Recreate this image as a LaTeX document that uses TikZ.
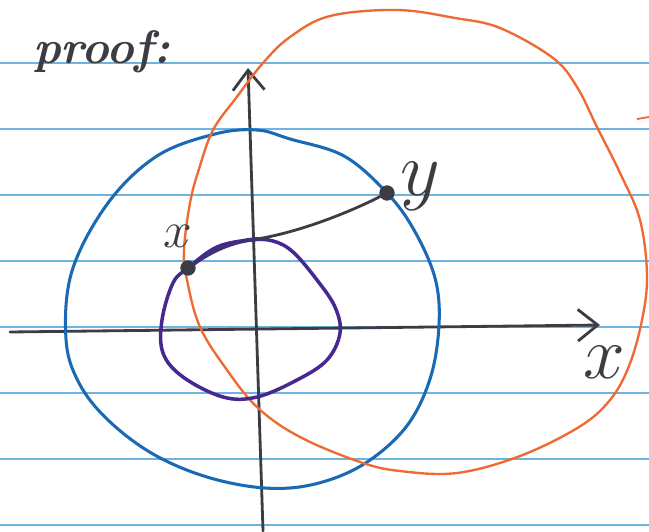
\RequirePackage{fix-cm}
\documentclass[tikz,border=0pt]{standalone}
\usetikzlibrary{arrows.meta}
\definecolor{ruleblue}{RGB}{110,180,225}
\definecolor{penblue}{RGB}{25,105,180}
\definecolor{penorange}{RGB}{240,105,50}
\definecolor{penpurple}{RGB}{70,40,145}
\definecolor{pencil}{RGB}{60,60,66}
\tikzstyle{every picture}=[> = {Straight Barb[length=17pt,width=27pt,line width=2.4pt]}]

\begin{document}
\begin{tikzpicture}[x=0.03cm,y=-0.03cm,
    pen/.style={line width=2.4pt,line cap=round,line join=round},
    dot/.style={circle,fill=pencil,inner sep=0pt,minimum size=0.46cm},
    hand/.style={text=pencil,inner sep=0pt}]
    \useasboundingbox[fill=white] (0,0) rectangle (649,531);
    % ruled paper
    \foreach \ry in {63,129,195,261,327,393,459,525}
      \draw[ruleblue,line width=1.1pt] (0,\ry) -- (649,\ry);
    \draw[penorange,line width=1.6pt] (637,119) -- (649,117);
    \node[hand,anchor=base west,font=\fontsize{40}{40}\selectfont\bfseries\itshape] (proof) at (33,63) {proof:};
    % axes
    \coordinate (xstart) at (10,332);
    \coordinate (xend) at (600,325);
    \coordinate (ystart) at (263,531);
    \coordinate (yend) at (248,68);
    \draw[pen,pencil,->] (xstart) to (xend);
    \draw[pen,pencil,->] (ystart) to (yend);
    \node[hand,font=\fontsize{64}{64}\selectfont] (xlabel) at (604,362) {$x$};
    % blue circle
    \draw[pen,penblue,line width=2.6pt] plot[smooth cycle,tension=0.6] coordinates {
      (66,339) (72,271) (108,203) (157,156) (215,134) (257,130) (290,139)
      (344,156) (387,193) (414,230) (435,278) (439,325) (430,379) (406,427)
      (364,464) (315,484) (265,488) (207,477) (153,454) (108,420) (79,383)};
    % orange curve
    \draw[pen,penorange,line width=2pt] plot[smooth cycle,tension=0.6] coordinates {
      (397,10) (455,18) (500,28) (553,58) (577,87) (597,127) (621,175)
      (640,220) (647,275) (642,320) (629,366) (610,400) (579,427) (520,456)
      (457,473) (400,471) (360,462) (300,437) (258,408) (227,370) (200,327)
      (187,280) (184,250) (190,203) (199,169) (213,130) (236,98) (263,63)
      (290,37) (330,16)};
    % purple loop
    \draw[pen,penpurple,line width=3pt] plot[smooth cycle,tension=0.6] coordinates {
      (188,268) (173,283) (162,320) (163,353) (183,377) (223,397) (257,397)
      (297,380) (327,360) (340,333) (335,307) (317,280) (293,252) (273,241)
      (250,240) (217,247)};
    % points and path
    \node[dot] (X) at (188,268) {};
    \node[dot] (Y) at (387,193) {};
    \coordinate (cross) at (257,239);
    \draw[pen,penpurple!70!pencil,line width=3.4pt] (X) .. controls (210,252) and (232,241) .. (cross);
    \draw[pen,pencil] (cross) .. controls (300,232) and (350,212) .. (Y);
    \node[hand,font=\fontsize{44}{44}\selectfont] (xpt) at (178,236) {$x$};
    \node[hand,font=\fontsize{66}{66}\selectfont] (ypt) at (420,186) {$y$};
\end{tikzpicture}
\end{document}
